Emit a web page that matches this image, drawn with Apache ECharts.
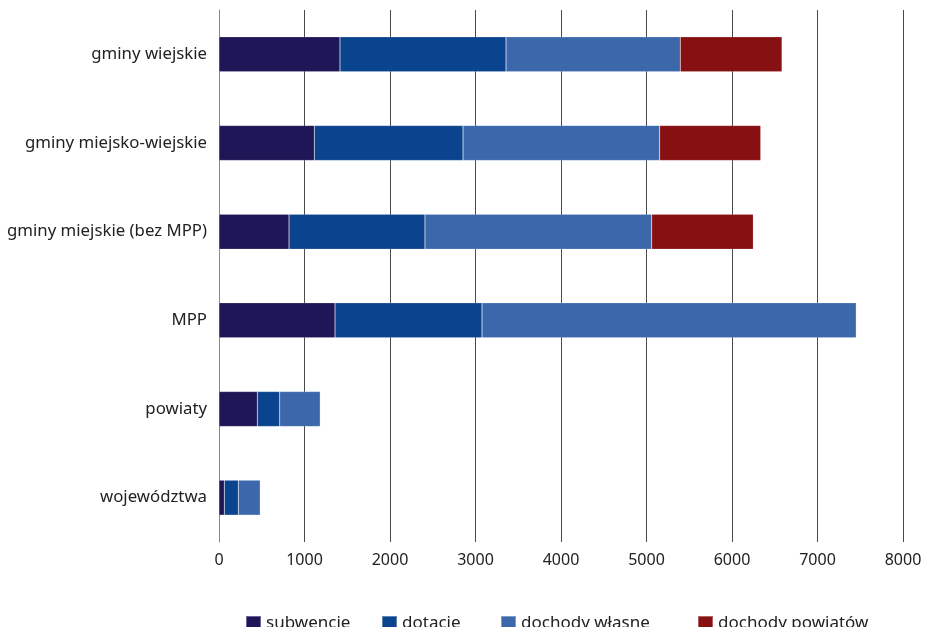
<!DOCTYPE html>
<html>
<head>
<meta charset="utf-8">
<script src="https://cdn.jsdelivr.net/npm/echarts@6/dist/echarts.min.js"></script>
<style>
  html, body { margin: 0; padding: 0; background: #fff; }
  #chart { width: 926px; height: 627px; }
</style>
</head>
<body>
<div id="chart"></div>
<script>
// Kategorie jednostek samorządu terytorialnego (od góry do dołu)
const categories = ['gminy wiejskie', 'gminy miejsko-wiejskie', 'gminy miejskie (bez MPP)', 'MPP', 'powiaty', 'województwa'];

// Dochody w podziale na źródła
const subwencje = [1415, 1115, 819, 1357, 448, 62];
const dotacje = [1942, 1739, 1590, 1719, 262, 164];
const dochodyWlasne = [2038, 2300, 2652, 4378, 475, 257];
const dochodyPowiatow = [1190, 1182, 1188, 0, 0, 0];

const axisTicks = [0, 1000, 2000, 3000, 4000, 5000, 6000, 7000, 8000];

const seriesDefs = [
  { name: 'subwencje', data: subwencje, color: '#1e1656' },
  { name: 'dotacje', data: dotacje, color: '#0b448e' },
  { name: 'dochody własne', data: dochodyWlasne, color: '#3c67ab' },
  { name: 'dochody powiatów', data: dochodyPowiatow, color: '#861012' }
];

// poziome położenie kolejnych pozycji legendy
const legendLeft = [240, 376, 495, 692];

const font = 'Noto Sans';
const chart = echarts.init(document.getElementById('chart'), null, { renderer: 'canvas' });

chart.setOption({
  animation: false,
  textStyle: { fontFamily: font },
  grid: { left: 219, right: 23, top: 10, bottom: 85, containLabel: false },
  legend: seriesDefs.map((s, i) => ({
    bottom: -10,
    left: legendLeft[i],
    itemWidth: 15,
    itemHeight: 15,
    itemGap: 0,
    icon: 'rect',
    textStyle: { fontFamily: font, fontSize: 17, color: '#222' },
    data: [s.name]
  })),
  xAxis: {
    type: 'value',
    min: axisTicks[0],
    max: axisTicks[axisTicks.length - 1],
    interval: 1000,
    axisLine: { show: false },
    axisTick: { show: false },
    axisLabel: { fontFamily: font, fontSize: 16, color: '#222', margin: 10, formatter: v => String(v) },
    splitLine: { show: true, lineStyle: { color: '#4a4a4a', width: 1 } }
  },
  yAxis: {
    type: 'category',
    inverse: true,
    data: categories,
    axisLine: { show: true, lineStyle: { color: '#888', width: 1 } },
    axisTick: { show: false },
    axisLabel: { fontFamily: font, fontSize: 16.8, color: '#222', margin: 12 }
  },
  series: seriesDefs.map(s => ({
    name: s.name,
    type: 'bar',
    stack: 'total',
    barWidth: '39.5%',
    data: s.data,
    itemStyle: { color: s.color, borderColor: 'rgba(255,255,255,0.35)', borderWidth: 0.5 }
  }))
});
</script>
</body>
</html>
